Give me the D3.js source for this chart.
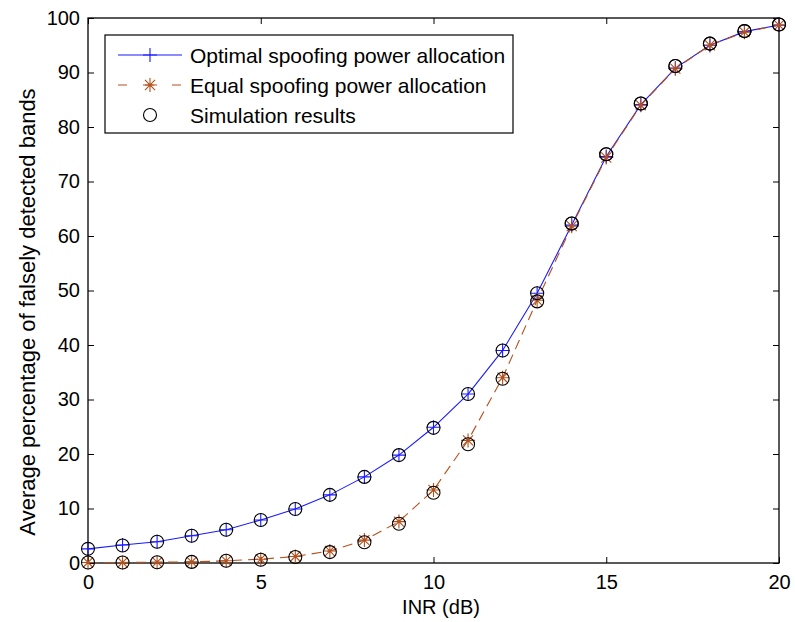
<!DOCTYPE html>
<html><head><meta charset="utf-8">
<script src="https://cdn.jsdelivr.net/npm/d3@7"></script>
<style>body{margin:0;background:#fff;} svg{display:block;font-family:"Liberation Sans",Arial,sans-serif;}</style>
</head><body>
<svg id="c" width="795" height="622"></svg>
<script>
const inr = [0,1,2,3,4,5,6,7,8,9,10,11,12,13,14,15,16,17,18,19,20];
const optimal = [2.6,3.3,3.9,5.0,6.1,7.9,9.9,12.5,15.8,19.8,24.9,31.0,39.0,49.5,62.0,74.6,84.1,90.8,95.0,97.5,98.7];
const equal = [0.1,0.1,0.15,0.2,0.4,0.7,1.2,2.2,4.2,7.6,13.4,22.5,34.0,48.2,61.8,74.4,84.0,90.7,95.0,97.4,98.7];
const simOptimal = [2.6,3.2,3.9,5.0,6.1,7.9,9.9,12.5,15.8,19.8,24.8,31.0,39.0,49.5,62.3,75.0,84.3,91.2,95.3,97.6,98.8];
const simEqual = [0.1,0.1,0.15,0.2,0.4,0.6,1.1,2.0,3.8,7.2,12.9,21.8,33.8,48.0,62.3,75.0,84.3,91.2,95.3,97.6,98.8];
const xTicks = [0,5,10,15,20];
const yTicks = [0,10,20,30,40,50,60,70,80,90,100];
const seriesNames = ["Optimal spoofing power allocation","Equal spoofing power allocation","Simulation results"];
const xLabel = "INR (dB)";
const yLabel = "Average percentage of falsely detected bands";

const blue = "#1a1aff", brown = "#b3501c";
const L = 88, R = 779, T = 18, B = 563;
const svg = d3.select("#c");
const x = d3.scaleLinear().domain([0,20]).range([L,R]);
const y = d3.scaleLinear().domain([0,100]).range([B,T]);

const tl = 6;
const gx = svg.append("g").attr("transform",`translate(0,${B})`)
  .call(d3.axisBottom(x).tickValues(xTicks).tickSizeInner(-tl).tickSizeOuter(0).tickPadding(12));
const gxt = svg.append("g").attr("transform",`translate(0,${T})`)
  .call(d3.axisTop(x).tickValues(xTicks).tickSizeInner(-tl).tickSizeOuter(0).tickFormat(""));
const gy = svg.append("g").attr("transform",`translate(${L},0)`)
  .call(d3.axisLeft(y).tickValues(yTicks).tickSizeInner(-tl).tickSizeOuter(0).tickPadding(8));
const gyr = svg.append("g").attr("transform",`translate(${R},0)`)
  .call(d3.axisRight(y).tickValues(yTicks).tickSizeInner(-tl).tickSizeOuter(0).tickFormat(""));
[gx,gxt,gy,gyr].forEach(g=>{
  g.select(".domain").remove();
  g.selectAll("line").attr("stroke","#000").attr("stroke-width",1);
  g.selectAll("text").attr("font-size",20).attr("fill","#000").attr("font-family","Liberation Sans, Arial, sans-serif");
});
svg.append("rect").attr("x",L).attr("y",T).attr("width",R-L).attr("height",B-T)
  .attr("fill","none").attr("stroke","#000").attr("stroke-width",1.3);

svg.append("text").attr("x",441).attr("y",614).attr("text-anchor","middle")
  .attr("font-size",20).text(xLabel);
svg.append("text").attr("transform",`translate(35,312) rotate(-90)`).attr("text-anchor","middle")
  .attr("font-size",22).text(yLabel);

const line = d3.line().x((d,i)=>x(inr[i])).y(d=>y(d));
const plot = svg.append("g");
plot.append("path").datum(optimal).attr("d",line).attr("fill","none").attr("stroke",blue).attr("stroke-width",1.1);
plot.append("path").datum(equal).attr("d",line).attr("fill","none").attr("stroke",brown).attr("stroke-width",1.1).attr("stroke-dasharray","10,6");

function plusMark(g,cx,cy,s,col){
  g.append("path").attr("d",`M${cx-s},${cy}H${cx+s}M${cx},${cy-s}V${cy+s}`).attr("stroke",col).attr("stroke-width",1.1).attr("fill","none");
}
function starMark(g,cx,cy,s,col){
  const d=s*0.72;
  g.append("path").attr("d",`M${cx-s},${cy}H${cx+s}M${cx},${cy-s}V${cy+s}M${cx-d},${cy-d}L${cx+d},${cy+d}M${cx-d},${cy+d}L${cx+d},${cy-d}`).attr("stroke",col).attr("stroke-width",1.1).attr("fill","none");
}
function circ(g,cx,cy){
  g.append("circle").attr("cx",cx).attr("cy",cy).attr("r",6.5).attr("fill","none").attr("stroke","#000").attr("stroke-width",1.1);
}
optimal.forEach((v,i)=>plusMark(plot,x(inr[i]),y(v),7,blue));
equal.forEach((v,i)=>starMark(plot,x(inr[i]),y(v),7,brown));
simOptimal.forEach((v,i)=>circ(plot,x(inr[i]),y(v)));
simEqual.forEach((v,i)=>circ(plot,x(inr[i]),y(v)));

const lg = svg.append("g");
lg.append("rect").attr("x",105).attr("y",35).attr("width",408).attr("height",98).attr("fill","#fff").attr("stroke","#000").attr("stroke-width",1.2);
const rows=[55,85,115];
lg.append("line").attr("x1",118).attr("x2",182).attr("y1",rows[0]).attr("y2",rows[0]).attr("stroke",blue).attr("stroke-width",1.1);
plusMark(lg,150,rows[0],7,blue);
lg.append("line").attr("x1",118).attr("x2",182).attr("y1",rows[1]).attr("y2",rows[1]).attr("stroke",brown).attr("stroke-width",1.1).attr("stroke-dasharray","9,18");
starMark(lg,150,rows[1],7,brown);
circ(lg,150,rows[2]);
seriesNames.forEach((n,i)=>lg.append("text").attr("x",190).attr("y",rows[i]+7.5).attr("font-size",21).text(n));
</script>
</body></html>
